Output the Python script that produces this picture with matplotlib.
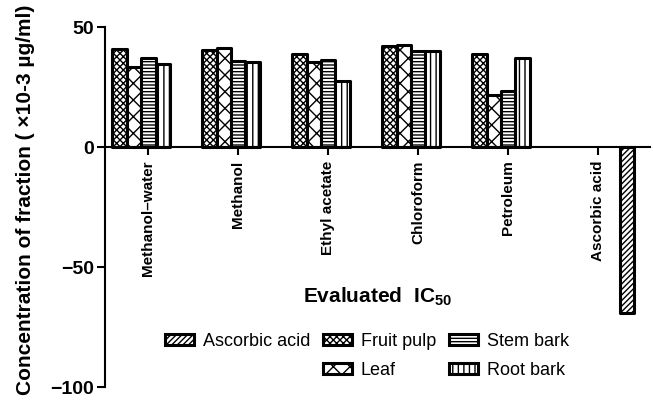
import numpy as np
import matplotlib
matplotlib.use("Agg")
import matplotlib.pyplot as plt
from matplotlib.patches import Rectangle

plt.rcParams['font.family'] = ['Liberation Sans', 'DejaVu Sans']
plt.rcParams['mathtext.fontset'] = 'custom'
plt.rcParams['mathtext.rm'] = 'Liberation Sans'
plt.rcParams['mathtext.bf'] = 'Liberation Sans:bold'
plt.rcParams['hatch.linewidth'] = 1.0

groups = ['Methanol\u2013water', 'Methanol', 'Ethyl acetate', 'Chloroform', 'Petroleum', 'Ascorbic acid']
series = ['Fruit pulp', 'Leaf', 'Stem bark', 'Root bark', 'Ascorbic acid']
fruit_pulp = [41, 40.5, 39, 42, 39, np.nan]
leaf = [33.5, 41.5, 35.5, 42.5, 21.5, np.nan]
stem_bark = [37, 36, 36.5, 40, 23.5, np.nan]
root_bark = [34.5, 35.5, 27.5, 40, 37, np.nan]
ascorbic = [np.nan, np.nan, np.nan, np.nan, np.nan, -69]
hatches = ['xxxxx', 'xx', '-----', '|||', '//////']

values = [fruit_pulp, leaf, stem_bark, root_bark, ascorbic]

fig = plt.figure(figsize=(6.53, 4.03), dpi=100)
ax = fig.add_axes([0.161, 0.0397, 0.835, 0.893])

x = np.arange(len(groups))
w = 0.16
bars = {}
for i, (name, vals, h) in enumerate(zip(series, values, hatches)):
    bars[name] = ax.bar(x + (i - 2) * w, vals, w, color='white', edgecolor='black',
                        linewidth=2.2, hatch=h, label=name, joinstyle='round')

ax.spines['top'].set_visible(False)
ax.spines['right'].set_visible(False)
ax.spines['bottom'].set_position(('data', 0))
ax.spines['left'].set_linewidth(1.5)
ax.spines['bottom'].set_linewidth(1.5)

ax.set_ylim(-100, 50)
ax.set_xlim(-0.48, 5.58)
ax.set_yticks([-100, -50, 0, 50])
ax.set_yticklabels(['\u2212100', '\u221250', '0', '50'], fontsize=14, fontweight='bold')
ax.set_xticks(x)
ax.set_xticklabels(groups, rotation=90, fontsize=11, fontweight='bold')
ax.tick_params(width=1.5, length=6)
ax.tick_params(axis='y', pad=2)

ax.set_ylabel('Concentration of fraction ( \u00d710-3 \u00b5g/ml)', fontsize=15,
              fontweight='bold')
ax.yaxis.set_label_coords(-0.128, 0.52)
ax.text(0.5, 0.25, r'Evaluated  IC$_{\mathbf{50}}$', transform=ax.transAxes,
        ha='center', va='center', fontsize=15, fontweight='bold')

blank = Rectangle((0, 0), 1, 1, fill=False, edgecolor='none', visible=False)
handles = [bars['Ascorbic acid'], blank, bars['Fruit pulp'], bars['Leaf'],
           bars['Stem bark'], bars['Root bark']]
labels = ['Ascorbic acid', '', 'Fruit pulp', 'Leaf', 'Stem bark', 'Root bark']
fig.legend(handles, labels, ncol=3, loc='center', bbox_to_anchor=(0.562, 0.117),
           frameon=False, fontsize=13, handlelength=1.6, handleheight=0.55,
           columnspacing=0.7, handletextpad=0.5, labelspacing=0.7)

fig.savefig('out.png', dpi=100)
